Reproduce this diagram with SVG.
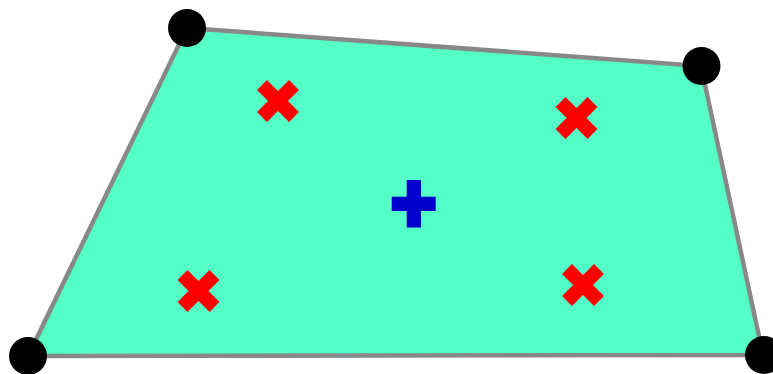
<svg xmlns="http://www.w3.org/2000/svg" width="773" height="374" viewBox="0 0 773 374">
<style>
.quad{fill:#55ffc8;stroke:#888888;stroke-width:4.5;stroke-linejoin:miter}
.vtx{fill:#000000}
.xm{stroke:#ff0000;stroke-width:14;stroke-linecap:butt;fill:none}
.pl{fill:#0000cc}
</style>
<defs>
<path id="xmark" class="xm" d="M-16,-16L16,16M16,-16L-16,16"/>
</defs>
<g id="quad-area">
<polygon class="quad" points="187,28 701,66 763,355 28,356"/>
</g>
<g id="vertices">
<circle class="vtx" cx="187" cy="28" r="19"/>
<circle class="vtx" cx="701.5" cy="66" r="19"/>
<circle class="vtx" cx="764" cy="355" r="19"/>
<circle class="vtx" cx="28" cy="356" r="19"/>
</g>
<g id="samples">
<use href="#xmark" x="278" y="101"/>
<use href="#xmark" x="576.5" y="118"/>
<use href="#xmark" x="198.5" y="291"/>
<use href="#xmark" x="583" y="285"/>
</g>
<g id="centroid">
<rect class="pl" x="406.7" y="180" width="14.3" height="47.5"/>
<rect class="pl" x="391.7" y="196.7" width="44" height="14.3"/>
</g>
</svg>
